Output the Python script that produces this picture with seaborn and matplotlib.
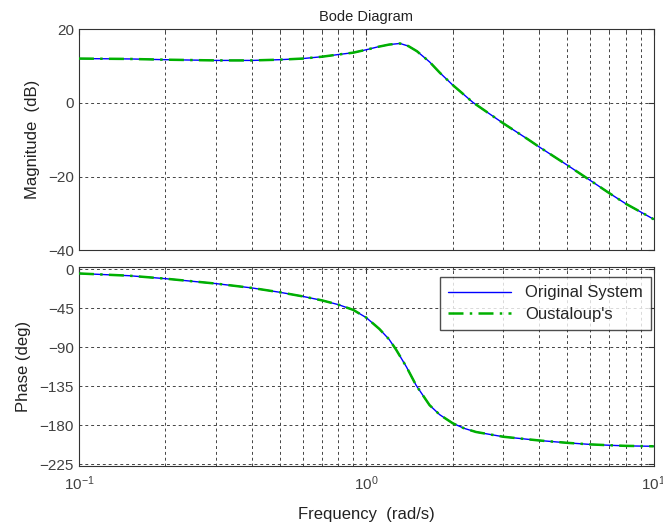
import numpy as np
import pandas as pd
import matplotlib
matplotlib.use("Agg")
import matplotlib.pyplot as plt
import seaborn as sns

# values (frequency in rad/s)
freq_mag = [0.1, 0.15, 0.2, 0.3, 0.4, 0.5, 0.6, 0.7, 0.8, 0.9, 1.0, 1.1, 1.2, 1.31,
            1.4, 1.5, 1.66, 1.8, 2.0, 2.35, 3.0, 3.65, 4.0, 5.0, 6.0, 7.0, 8.0, 9.0, 10.0]
mag_db = [12.0, 11.9, 11.7, 11.5, 11.5, 11.7, 12.0, 12.5, 13.1, 13.6, 14.4, 15.2, 15.8, 16.1,
          15.4, 14.0, 11.1, 8.2, 4.8, 0.1, -5.6, -9.9, -12.0, -16.9, -21.0, -24.5, -27.4,
          -29.6, -31.6]

freq_phase = [0.1, 0.15, 0.2, 0.3, 0.4, 0.5, 0.6, 0.7, 0.8, 0.9, 1.0, 1.11, 1.2, 1.27,
              1.38, 1.49, 1.66, 1.8, 2.0, 2.2, 2.41, 3.0, 4.0, 5.0, 6.0, 7.0, 8.0, 10.0]
phase_deg = [-5.0, -7.6, -11.0, -16.7, -21.7, -26.7, -31.4, -36.0, -41.0, -47.0, -56.0,
             -69.0, -81.0, -93.0, -113.0, -134.0, -157.0, -168.0, -178.0, -184.0, -188.0,
             -193.5, -197.8, -200.5, -202.3, -203.3, -204.0, -204.5]

series_names = ["Original System", "Oustaloup's"]
mag_ticks = [20, 0, -20, -40]
phase_ticks = [0, -45, -90, -135, -180, -225]

sns.set_style("white")
plt.rcParams['font.family'] = ['Liberation Sans', 'DejaVu Sans']
plt.rcParams['mathtext.fontset'] = 'custom'
plt.rcParams['mathtext.rm'] = 'Liberation Sans'

mag_df = pd.concat([pd.DataFrame({"freq": freq_mag, "val": mag_db, "sys": s}) for s in series_names])
ph_df = pd.concat([pd.DataFrame({"freq": freq_phase, "val": phase_deg, "sys": s}) for s in series_names])

fig = plt.figure(figsize=(6.63, 5.29), dpi=100)
ax1 = fig.add_axes([0.119, 0.527, 0.867, 0.418])
ax2 = fig.add_axes([0.119, 0.119, 0.867, 0.376])

palette = {"Original System": "#0000ff", "Oustaloup's": "#00b000"}
tick_col = "#404040"

for ax, df in [(ax1, mag_df), (ax2, ph_df)]:
    sns.lineplot(data=df[df.sys == series_names[0]], x="freq", y="val", color=palette[series_names[0]],
                 lw=1.0, ax=ax, label=series_names[0], zorder=3)
    sns.lineplot(data=df[df.sys == series_names[1]], x="freq", y="val", color=palette[series_names[1]],
                 lw=1.8, ls=(0, (6, 2.5, 1, 2.5)), ax=ax, label=series_names[1], zorder=4)
    ax.set_xscale("log")
    ax.set_xlim(0.1, 10)
    ax.grid(True, which="both", color="#444444", lw=0.7, ls=(0, (3, 3)))
    ax.tick_params(which="both", direction="in", top=True, right=True, colors="#333333",
                   labelcolor=tick_col, labelsize=11)
    ax.tick_params(which="major", length=4)
    ax.tick_params(which="minor", length=2.5)
    ax.tick_params(axis="x", pad=6)
    for sp in ax.spines.values():
        sp.set_color("#333333")
        sp.set_linewidth(0.8)
    ax.set_xlabel("")

ax1.set_ylim(-40, 20)
ax1.set_yticks(mag_ticks)
ax1.tick_params(labelbottom=False)
ax1.set_ylabel("Magnitude  (dB)", fontsize=12, color="#222222", labelpad=6)
ax1.set_title("Bode Diagram", fontsize=10.5, color="#222222", pad=6)
ax1.get_legend().remove()

ax2.set_ylim(-227.3, 2.3)
ax2.set_yticks(phase_ticks)
ax2.set_ylabel("Phase (deg)", fontsize=12, color="#222222", labelpad=6)
ax2.set_xlabel("Frequency  (rad/s)", fontsize=12, color="#222222", labelpad=10)

leg = ax2.legend(loc="upper right", fontsize=12, frameon=True, fancybox=False,
                 bbox_to_anchor=(0.995, 0.95), borderaxespad=0.0, handlelength=3.8,
                 borderpad=0.5, labelspacing=0.4)
leg.get_frame().set_edgecolor("#222222")
leg.get_frame().set_linewidth(1.0)

fig.savefig("out.png", dpi=100)
